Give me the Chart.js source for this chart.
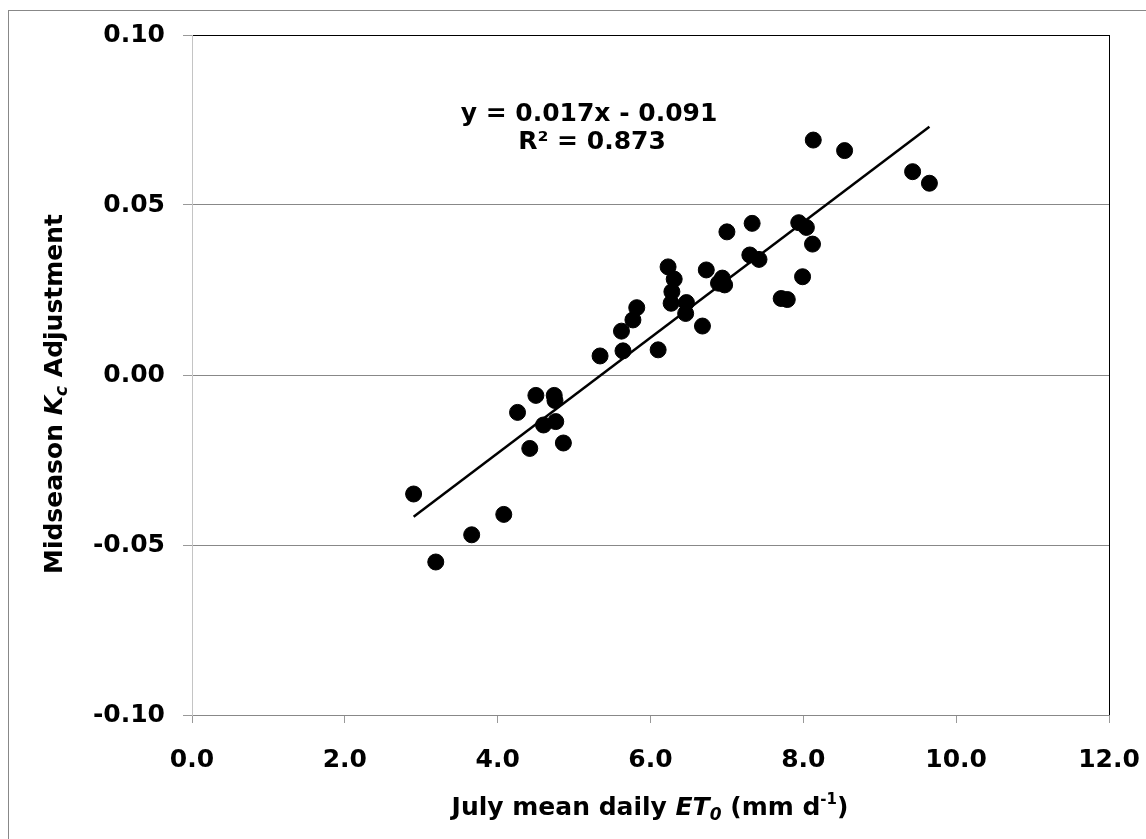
<!DOCTYPE html>
<html>
<head>
<meta charset="utf-8">
<script src="https://cdn.jsdelivr.net/npm/chart.js@4.4.1/dist/chart.umd.min.js"></script>
<style>
  body { margin: 0; background: #fff; }
</style>
</head>
<body>
<canvas id="kc-chart" width="1146" height="839"></canvas>
<script>
// July mean daily ET0 (mm/d) for each site-year
let etValues = [
  2.90, 3.19, 3.66, 4.08, 4.26, 4.42, 4.50, 4.60, 4.74, 4.75, 4.76,
  4.86, 5.34, 5.62, 5.64, 5.77, 5.82, 6.10, 6.23, 6.31, 6.28, 6.27,
  6.47, 6.46, 6.68, 6.73, 6.89, 6.94, 6.97, 7.00, 7.33, 7.30, 7.42,
  7.71, 7.79, 7.94, 7.99, 8.04, 8.12, 8.13, 8.54, 9.43, 9.65,
];

// midseason Kc adjustment, same order as etValues
let kcAdjust = [
  -0.035, -0.055, -0.047, -0.041, -0.011, -0.0216, -0.006, -0.0147, -0.006, -0.0075, -0.0137,
  -0.020, 0.0056, 0.0129, 0.0071, 0.0162, 0.0198, 0.0074, 0.0318, 0.0282, 0.0245, 0.0211,
  0.0213, 0.0181, 0.0144, 0.0309, 0.0270, 0.0285, 0.0265, 0.0421, 0.0446, 0.0353, 0.0340,
  0.0225, 0.0222, 0.0448, 0.0289, 0.0434, 0.0385, 0.0691, 0.0660, 0.0598, 0.0564,
];

// fitted line as printed on the chart
let trendSlope = 0.017;
let trendIntercept = -0.091;
let equationText = "y = 0.017x - 0.091";
let r2Text = "R² = 0.873";

let xTicks = [0, 2, 4, 6, 8, 10, 12];
let yTicks = [-0.10, -0.05, 0.00, 0.05, 0.10];

// build the point list for the scatter dataset
let points = etValues.map(function (x, i) {
  return { x: x, y: kcAdjust[i] };
});

// trendline runs across the range of the data
let xMin = Math.min(...etValues);
let xMax = Math.max(...etValues);
let trendPoints = [
  { x: xMin, y: trendSlope * xMin + trendIntercept },
  { x: xMax, y: trendSlope * xMax + trendIntercept },
];

let family = "'DejaVu Sans', Arial, sans-serif";
let boldFont = "bold 25px " + family;
let italicFont = "italic bold 25px " + family;
let smallItalic = "italic bold 17px " + family;
let smallBold = "bold 15px " + family;

// draws a list of text pieces one after another, centred on (cx, cy)
function drawRichText(ctx, pieces, cx, cy, angle) {
  ctx.save();
  ctx.translate(cx, cy);
  ctx.rotate(angle);
  ctx.textBaseline = "alphabetic";
  ctx.textAlign = "left";
  let total = 0;
  pieces.forEach(function (p) {
    ctx.font = p.font;
    total += ctx.measureText(p.text).width;
  });
  let pos = -total / 2;
  pieces.forEach(function (p) {
    ctx.font = p.font;
    ctx.fillStyle = "#000";
    ctx.fillText(p.text, pos, 9 + (p.shift || 0));
    pos += ctx.measureText(p.text).width;
  });
  ctx.restore();
}

// titles with italic / sub / superscripts, equation text and outer frame
let extrasPlugin = {
  id: "extras",
  afterDraw: function (chart) {
    let ctx = chart.ctx;

    ctx.save();
    ctx.strokeStyle = "#888";
    ctx.lineWidth = 1;
    ctx.strokeRect(8.5, 10.5, 1200, 900);
    ctx.restore();

    drawRichText(ctx, [
      { text: "July mean daily ", font: boldFont },
      { text: "ET", font: italicFont },
      { text: "0", font: smallItalic, shift: 5 },
      { text: " (mm d", font: boldFont },
      { text: "-1", font: smallBold, shift: -11 },
      { text: ")", font: boldFont },
    ], 650, 806, 0);

    drawRichText(ctx, [
      { text: "Midseason ", font: boldFont },
      { text: "K", font: italicFont },
      { text: "c", font: smallItalic, shift: 5 },
      { text: " Adjustment", font: boldFont },
    ], 53, 394, -Math.PI / 2);

    ctx.save();
    ctx.font = boldFont;
    ctx.fillStyle = "#000";
    ctx.textAlign = "center";
    ctx.textBaseline = "alphabetic";
    ctx.fillText(equationText, 589, 121);
    ctx.fillText(r2Text, 592, 149);
    ctx.restore();
  },
};

let chartCanvas = document.querySelector("#kc-chart");
let context = chartCanvas.getContext("2d");

let kcChart = new Chart(context, {
  type: "scatter",
  data: {
    datasets: [
      {
        label: "Kc adjustment",
        data: points,
        backgroundColor: "#000",
        borderColor: "#000",
        pointRadius: 8,
        pointHoverRadius: 8,
        order: 1,
      },
      {
        label: "Linear fit",
        type: "line",
        data: trendPoints,
        borderColor: "#000",
        borderWidth: 2.5,
        pointRadius: 0,
        fill: false,
        order: 2,
      },
    ],
  },
  options: {
    responsive: false,
    animation: false,
    layout: { padding: { left: 0, top: 35, right: 37, bottom: 0 } },
    plugins: {
      legend: { display: false },
      tooltip: { enabled: false },
    },
    scales: {
      x: {
        type: "linear",
        min: 0,
        max: 12,
        afterBuildTicks: function (axis) {
          axis.ticks = xTicks.map(function (v) { return { value: v }; });
        },
        afterFit: function (axis) {
          axis.height = 124;
          // the "12.0" label fits inside the layout padding
          axis.paddingLeft = 0;
          axis.paddingRight = 0;
        },
        ticks: {
          color: "#000",
          font: { family: family, size: 25, weight: "bold" },
          padding: 22,
          maxRotation: 0,
          callback: function (v) { return v.toFixed(1); },
        },
        grid: {
          color: function (c) { return c.tick && c.tick.value === 12 ? "#000" : "rgba(0,0,0,0)"; },
          tickColor: "#999",
          tickLength: 8,
        },
        border: { color: "#888", width: 1 },
      },
      y: {
        type: "linear",
        min: -0.1,
        max: 0.1,
        afterBuildTicks: function (axis) {
          axis.ticks = yTicks.map(function (v) { return { value: v }; });
        },
        afterFit: function (axis) { axis.width = 192; },
        ticks: {
          color: "#000",
          font: { family: family, size: 25, weight: "bold" },
          padding: 18,
          callback: function (v) { return v.toFixed(2); },
        },
        grid: {
          color: function (c) {
            if (!c.tick) return "#888";
            if (Math.abs(c.tick.value - 0.1) < 1e-9) return "#000";
            return "#888";
          },
          tickColor: "#999",
          tickLength: 9,
        },
        border: { color: "#c4c4c4", width: 1 },
      },
    },
  },
  plugins: [extrasPlugin],
});
</script>
</body>
</html>
